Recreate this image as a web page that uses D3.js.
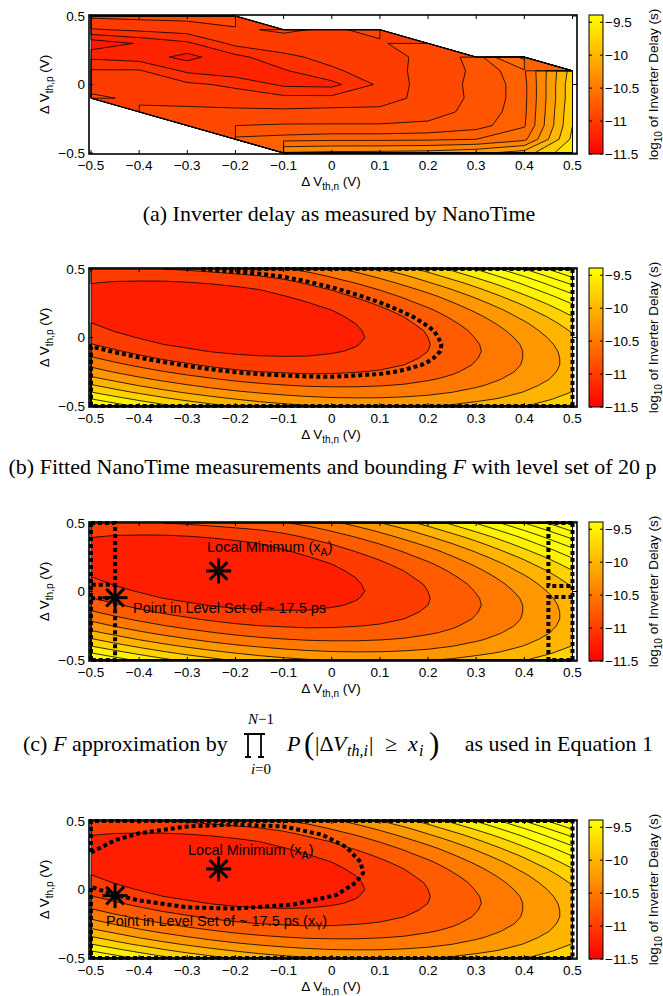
<!DOCTYPE html>
<html>
<head>
<meta charset="utf-8">
<script src="https://cdn.jsdelivr.net/npm/d3@7"></script>
<style>
body { margin: 0; background: #fff; }
svg { display: block; }
.ax text { font-family: "Liberation Sans", Arial, sans-serif; font-size: 13.5px; fill: #000; }
.cap { font-family: "Liberation Serif", "Times New Roman", serif; font-size: 22px; fill: #000; }
</style>
</head>
<body>
<svg id="fig" width="663" height="996"></svg>
<script>
// grid of the fitted surface (panels b, c, d): log10 of inverter delay
var fitX = [-0.5,-0.45,-0.4,-0.35,-0.3,-0.25,-0.2,-0.15,-0.1,-0.05,0,0.05,0.1,0.15,0.2,0.25,0.3,0.35,0.4,0.45,0.5];
var fitY = [0.5,0.45,0.4,0.35,0.3,0.25,0.2,0.15,0.1,0.05,0,-0.05,-0.1,-0.15,-0.2,-0.25,-0.3,-0.35,-0.4,-0.45,-0.5];
var fitDelay = [
[-10.76,-10.77,-10.77,-10.75,-10.72,-10.68,-10.63,-10.58,-10.52,-10.43,-10.31,-10.17,-10.01,-9.84,-9.66,-9.45,-9.24,-9.00,-8.75,-8.49,-8.21],
[-10.89,-10.91,-10.91,-10.90,-10.88,-10.84,-10.80,-10.75,-10.68,-10.59,-10.47,-10.34,-10.19,-10.03,-9.85,-9.65,-9.44,-9.22,-8.98,-8.72,-8.45],
[-10.99,-11.02,-11.03,-11.03,-11.01,-10.98,-10.94,-10.89,-10.82,-10.72,-10.61,-10.49,-10.35,-10.19,-10.02,-9.84,-9.64,-9.42,-9.19,-8.94,-8.68],
[-11.06,-11.10,-11.12,-11.13,-11.12,-11.09,-11.05,-11.00,-10.93,-10.84,-10.74,-10.62,-10.49,-10.34,-10.18,-10.00,-9.81,-9.60,-9.37,-9.13,-8.88],
[-11.09,-11.13,-11.16,-11.17,-11.17,-11.16,-11.12,-11.08,-11.01,-10.94,-10.84,-10.73,-10.61,-10.47,-10.32,-10.15,-9.96,-9.76,-9.54,-9.31,-9.07],
[-11.09,-11.14,-11.18,-11.20,-11.21,-11.20,-11.18,-11.14,-11.08,-11.01,-10.93,-10.83,-10.71,-10.58,-10.43,-10.27,-10.10,-9.90,-9.70,-9.47,-9.23],
[-11.08,-11.14,-11.18,-11.21,-11.23,-11.23,-11.21,-11.18,-11.14,-11.07,-11.00,-10.90,-10.80,-10.67,-10.54,-10.38,-10.21,-10.03,-9.83,-9.61,-9.38],
[-11.05,-11.12,-11.17,-11.21,-11.23,-11.24,-11.23,-11.21,-11.17,-11.12,-11.05,-10.96,-10.86,-10.75,-10.62,-10.47,-10.31,-10.13,-9.94,-9.74,-9.51],
[-10.99,-11.07,-11.14,-11.18,-11.21,-11.23,-11.23,-11.21,-11.18,-11.14,-11.08,-11.00,-10.91,-10.80,-10.68,-10.54,-10.39,-10.22,-10.04,-9.84,-9.63],
[-10.93,-11.01,-11.08,-11.14,-11.18,-11.20,-11.21,-11.20,-11.18,-11.14,-11.09,-11.02,-10.94,-10.84,-10.73,-10.60,-10.45,-10.29,-10.12,-9.92,-9.72],
[-10.84,-10.94,-11.01,-11.08,-11.12,-11.16,-11.17,-11.17,-11.16,-11.13,-11.09,-11.03,-10.95,-10.86,-10.75,-10.63,-10.49,-10.34,-10.18,-9.99,-9.79],
[-10.74,-10.84,-10.93,-11.00,-11.05,-11.09,-11.12,-11.13,-11.12,-11.10,-11.06,-11.01,-10.94,-10.86,-10.76,-10.65,-10.52,-10.38,-10.22,-10.04,-9.85],
[-10.61,-10.72,-10.82,-10.90,-10.96,-11.01,-11.04,-11.06,-11.06,-11.05,-11.02,-10.98,-10.92,-10.84,-10.75,-10.65,-10.53,-10.39,-10.24,-10.07,-9.89],
[-10.47,-10.59,-10.69,-10.78,-10.85,-10.91,-10.95,-10.97,-10.98,-10.98,-10.96,-10.92,-10.87,-10.80,-10.72,-10.63,-10.51,-10.39,-10.24,-10.08,-9.91],
[-10.31,-10.44,-10.55,-10.64,-10.72,-10.79,-10.84,-10.87,-10.89,-10.89,-10.88,-10.85,-10.81,-10.75,-10.68,-10.59,-10.48,-10.36,-10.23,-10.08,-9.91],
[-10.13,-10.27,-10.39,-10.49,-10.58,-10.65,-10.71,-10.75,-10.77,-10.79,-10.78,-10.76,-10.73,-10.68,-10.61,-10.53,-10.43,-10.32,-10.20,-10.05,-9.90],
[-9.94,-10.08,-10.21,-10.32,-10.41,-10.49,-10.56,-10.61,-10.64,-10.66,-10.67,-10.65,-10.63,-10.59,-10.53,-10.46,-10.37,-10.26,-10.14,-10.01,-9.86],
[-9.72,-9.87,-10.01,-10.13,-10.23,-10.32,-10.39,-10.45,-10.49,-10.52,-10.53,-10.53,-10.51,-10.48,-10.43,-10.36,-10.28,-10.19,-10.07,-9.95,-9.81],
[-9.49,-9.65,-9.79,-9.92,-10.03,-10.13,-10.21,-10.27,-10.32,-10.36,-10.38,-10.38,-10.37,-10.35,-10.31,-10.25,-10.18,-10.09,-9.99,-9.87,-9.74],
[-9.24,-9.40,-9.55,-9.69,-9.81,-9.91,-10.00,-10.08,-10.14,-10.18,-10.21,-10.22,-10.22,-10.20,-10.17,-10.12,-10.05,-9.98,-9.88,-9.77,-9.65],
[-8.97,-9.14,-9.30,-9.44,-9.57,-9.68,-9.78,-9.86,-9.93,-9.98,-10.02,-10.04,-10.04,-10.03,-10.01,-9.97,-9.91,-9.84,-9.76,-9.65,-9.54]
];

// measured grid (panel a), null = not simulated
var measX = [-0.5,-0.4,-0.3,-0.2,-0.1,0,0.1,0.2,0.3,0.4,0.5];
var measY = [0.5,0.4,0.3,0.2,0.1,0,-0.1,-0.2,-0.3,-0.4,-0.5];
var measDelay = [
[-10.88,-10.87,-10.87,-10.86,null,null,null,null,null,null,null],
[-11.01,-10.98,-10.95,-10.91,-10.89,-10.91,-10.88,null,null,null,null],
[-11.27,-11.19,-11.12,-10.97,-10.93,-10.92,-10.91,-10.85,null,null,null],
[-11.12,-11.15,-11.23,-11.13,-11.03,-10.96,-10.93,-10.88,-10.76,-10.35,null],
[-10.99,-10.99,-11.12,-11.17,-11.11,-11.02,-10.94,-10.87,-10.78,-10.62,-9.70],
[-10.92,-10.94,-10.98,-11.02,-11.12,-11.13,-10.98,-10.85,-10.78,-10.65,-9.65],
[-10.89,-10.91,-10.93,-10.95,-10.97,-10.97,-10.95,-10.86,-10.78,-10.65,-9.65],
[null,-10.89,-10.88,-10.88,-10.88,-10.87,-10.87,-10.84,-10.77,-10.64,-9.62],
[null,null,-10.82,-10.80,-10.79,-10.79,-10.79,-10.78,-10.74,-10.62,-9.60],
[null,null,null,-10.68,-10.66,-10.64,-10.64,-10.63,-10.60,-10.45,-9.55],
[null,null,null,null,-10.18,-10.15,-10.14,-10.12,-10.05,-9.90,-9.42]
];

var fitFloor = -11.25;
var fitLevels = [-11,-10.75,-10.5,-10.25,-10,-9.75,-9.5,-9.25,-9,-8.75,-8.5,-8.25];
var measFloor = -11.3;
var measLevels = [-11.2,-11.1,-11,-10.9,-10.8,-10.7,-10.6,-10.4,-10.2,-10,-9.8,-9.6];
var levelSet20ps = -10.699;

var cbTicks = [-9.5,-10,-10.5,-11,-11.5];
var xTicks = [-0.5,-0.4,-0.3,-0.2,-0.1,0,0.1,0.2,0.3,0.4,0.5];
var yTicks = [0.5,0,-0.5];

var localMin = [-0.235,0.15];
var levelPoint = [-0.45,-0.045];

// F approximation by product of tail probabilities (panel c): boundary pieces
var boundC = [
  [[-0.5,0.5],[-0.5,-0.5]],
  [[-0.5,0.5],[-0.45,0.5],[-0.45,0.05],[-0.5,0.05]],
  [[-0.5,-0.05],[-0.45,-0.05],[-0.45,-0.5],[-0.5,-0.5]],
  [[0.5,0.5],[0.5,-0.5]],
  [[0.5,0.5],[0.45,0.5],[0.45,0.04],[0.5,0.04]],
  [[0.5,-0.04],[0.45,-0.04],[0.45,-0.5],[0.5,-0.5]]
];
// level set of F (panel d): curve then domain border
var boundD = [[-0.5,0.27],[-0.45,0.36],[-0.4,0.41],[-0.3,0.46],[-0.2,0.475],[-0.1,0.46],[-0.02,0.4],[0.03,0.31],[0.06,0.2],[0.065,0.12],[0.05,0.05],[0.01,-0.04],[-0.08,-0.11],[-0.2,-0.14],[-0.3,-0.13],[-0.4,-0.08],[-0.45,-0.04],[-0.5,0.02],[-0.5,-0.5],[0.5,-0.5],[0.5,0.5],[-0.5,0.5],[-0.5,0.27]];

var svg = d3.select('#fig');
var cMin = -11.5, cMax = -9.39;
function autumn(v) {
  var t = Math.max(0, Math.min(1, (v - cMin) / (cMax - cMin)));
  return d3.rgb(255, Math.round(255 * t), 0).toString();
}
var grad = svg.append('defs').append('linearGradient').attr('id','autumn').attr('x1',0).attr('y1',1).attr('x2',0).attr('y2',0);
grad.append('stop').attr('offset','0%').attr('stop-color','#ff0000');
grad.append('stop').attr('offset','100%').attr('stop-color','#ffff00');

var X0 = 91, X1 = 572.5, FL = 89, FR = 577, PH = 139;
var tops = [15, 268, 522, 820];
var minus = function(v){ return (v < 0 ? '\u2212' : '') + Math.abs(v); };

function panel(top, grid, gx, gy, floor, levels) {
  var g = svg.append('g').attr('class','ax');
  var x = d3.scaleLinear().domain([-0.5,0.5]).range([X0,X1]);
  var y = d3.scaleLinear().domain([0.5,-0.5]).range([top+1,top+PH-1]);
  var nx = gx.length, ny = gy.length, dx = gx[1]-gx[0], dy = gy[1]-gy[0];
  var proj = d3.geoTransform({point: function(px, py) {
    var cx = Math.max(0.5, Math.min(nx-0.5, px)), cy = Math.max(0.5, Math.min(ny-0.5, py));
    this.stream.point(x(gx[0] + (cx-0.5)*dx), y(gy[0] + (cy-0.5)*dy));
  }});
  var path = d3.geoPath(proj);
  var flat = [].concat.apply([], grid);
  var bands = d3.contours().size([nx,ny]).thresholds([floor].concat(levels))(flat);
  g.selectAll('path.band').data(bands).enter().append('path').attr('class','band')
    .attr('d', path).attr('fill', function(d){ return autumn(d.value); }).attr('stroke','none');
  g.selectAll('path.iso').data(bands).enter().append('path').attr('class','iso')
    .attr('d', path).attr('fill','none').attr('stroke','#000').attr('stroke-width',0.8);
  return {g:g, x:x, y:y, path:path, flat:flat, nx:nx, ny:ny};
}

function axes(p, top) {
  var g = p.g, x = p.x, y = p.y;
  g.append('rect').attr('x',FL).attr('y',top).attr('width',FR-FL).attr('height',PH)
    .attr('fill','none').attr('stroke','#000').attr('stroke-width',1.6);
  xTicks.forEach(function(t){
    g.append('line').attr('x1',x(t)).attr('x2',x(t)).attr('y1',top+PH).attr('y2',top+PH-4).attr('stroke','#000');
    g.append('line').attr('x1',x(t)).attr('x2',x(t)).attr('y1',top).attr('y2',top+4).attr('stroke','#000');
    g.append('text').attr('x',x(t)).attr('y',top+PH+16).attr('text-anchor','middle').text(minus(t));
  });
  yTicks.forEach(function(t){
    g.append('line').attr('x1',FL).attr('x2',FL+4).attr('y1',y(t)).attr('y2',y(t)).attr('stroke','#000');
    g.append('line').attr('x1',FR).attr('x2',FR-4).attr('y1',y(t)).attr('y2',y(t)).attr('stroke','#000');
    g.append('text').attr('x',85).attr('y',y(t)).attr('dy','0.35em').attr('text-anchor','end').text(minus(t));
  });
  var xl = g.append('text').attr('x',331).attr('y',top+171).attr('text-anchor','middle');
  xl.append('tspan').text('\u0394 V');
  xl.append('tspan').attr('font-size','10px').attr('dy',4).text('th,n');
  xl.append('tspan').attr('dy',-4).text(' (V)');
  var yl = g.append('text').attr('transform','translate(49,'+(top+PH/2)+') rotate(-90)').attr('text-anchor','middle');
  yl.append('tspan').text('\u0394 V');
  yl.append('tspan').attr('font-size','10px').attr('dy',4).text('th,p');
  yl.append('tspan').attr('dy',-4).text(' (V)');
  // colorbar
  var cb = d3.scaleLinear().domain([cMin,cMax]).range([top+PH,top]);
  g.append('rect').attr('x',589).attr('y',top).attr('width',14).attr('height',PH)
    .attr('fill','url(#autumn)').attr('stroke','#000').attr('stroke-width',1);
  cbTicks.forEach(function(t){
    g.append('line').attr('x1',603).attr('x2',600).attr('y1',cb(t)).attr('y2',cb(t)).attr('stroke','#000');
    g.append('line').attr('x1',589).attr('x2',592).attr('y1',cb(t)).attr('y2',cb(t)).attr('stroke','#000');
    g.append('text').attr('x',605).attr('y',cb(t)).attr('dy','0.35em').text(minus(t));
  });
  var cl = g.append('text').attr('transform','translate(658,'+(top+PH/2)+') rotate(-90)').attr('text-anchor','middle');
  cl.append('tspan').text('log');
  cl.append('tspan').attr('font-size','10px').attr('dy',4).text('10');
  cl.append('tspan').attr('dy',-4).text(' of Inverter Delay (s)');
}

function dashed(g, d) {
  g.append('path').attr('d', d).attr('fill','none').attr('stroke','#000')
    .attr('stroke-width',4).attr('stroke-dasharray','4 3');
}
function star(g, cx, cy) {
  var r = 12.5;
  [0,45,90,135].forEach(function(a){
    var c = Math.cos(a*Math.PI/180)*r, s = Math.sin(a*Math.PI/180)*r;
    g.append('line').attr('x1',cx-c).attr('y1',cy-s).attr('x2',cx+c).attr('y2',cy+s)
      .attr('stroke','#000').attr('stroke-width',3);
  });
}
function note(g, x0, y0, main, sub, tail) {
  var t = g.append('text').attr('x',x0).attr('y',y0).style('font-size','14.5px');
  t.append('tspan').text(main);
  if (sub) {
    t.append('tspan').attr('font-size','10.5px').attr('dy',4).text(sub);
    t.append('tspan').attr('dy',-4).text(tail);
  }
}

// (a)
var pa = panel(tops[0], measDelay, measX, measY, measFloor, measLevels);
axes(pa, tops[0]);

// (b)
var pb = panel(tops[1], fitDelay, fitX, fitY, fitFloor, fitLevels);
var ls = d3.contours().size([pb.nx,pb.ny]).thresholds([levelSet20ps])(pb.flat);
dashed(pb.g, pb.path(ls[0]));
axes(pb, tops[1]);

// (c)
var pc = panel(tops[2], fitDelay, fitX, fitY, fitFloor, fitLevels);
var lineC = d3.line().x(function(d){ return pc.x(d[0]); }).y(function(d){ return pc.y(d[1]); });
boundC.forEach(function(b){ dashed(pc.g, lineC(b)); });
star(pc.g, pc.x(localMin[0]), pc.y(localMin[1]));
star(pc.g, pc.x(levelPoint[0]), pc.y(levelPoint[1]));
note(pc.g, 207, tops[2]+30, 'Local Minimum (x', 'A', ')');
note(pc.g, 133, tops[2]+91, 'Point in Level Set of ~ 17.5 ps');
axes(pc, tops[2]);

// (d)
var pd = panel(tops[3], fitDelay, fitX, fitY, fitFloor, fitLevels);
var lineD = d3.line().x(function(d){ return pd.x(d[0]); }).y(function(d){ return pd.y(d[1]); });
dashed(pd.g, lineD(boundD));
star(pd.g, pd.x(localMin[0]), pd.y(localMin[1]));
star(pd.g, pd.x(levelPoint[0]), pd.y(levelPoint[1]));
note(pd.g, 188, tops[3]+35, 'Local Minimum (x', 'A', ')');
note(pd.g, 106, tops[3]+106, 'Point in Level Set of ~ 17.5 ps (x', 'Y', ')');
axes(pd, tops[3]);

// captions
svg.append('text').attr('class','cap').attr('x',339).attr('y',221).attr('text-anchor','middle')
  .text('(a) Inverter delay as measured by NanoTime');
var capB = svg.append('text').attr('class','cap').attr('x',8.5).attr('y',474);
capB.append('tspan').text('(b) Fitted NanoTime measurements and bounding ');
capB.append('tspan').attr('font-style','italic').text('F');
capB.append('tspan').text(' with level set of 20 p');

function capPiece(x0, y0, s, opts) {
  var t = svg.append('text').attr('class','cap').attr('x',x0).attr('y',y0).text(s);
  if (opts && opts.italic) t.attr('font-style','italic');
  if (opts && opts.size) t.style('font-size', opts.size + 'px');
  if (opts && opts.anchor) t.attr('text-anchor', opts.anchor);
  return t;
}
var cy0 = 751;
var capC = svg.append('text').attr('class','cap').attr('x',23).attr('y',cy0);
capC.append('tspan').text('(c) ');
capC.append('tspan').attr('font-style','italic').text('F');
capC.append('tspan').text(' approximation by');
// product sign
svg.append('path').attr('d','M244,734 H265 M248,734 V757 M261,734 V757 M245,757 H251 M258,757 H264')
  .attr('stroke','#000').attr('stroke-width',1.8).attr('fill','none');
var up = svg.append('text').attr('class','cap').attr('x',261).attr('y',724).attr('text-anchor','middle').style('font-size','15px');
up.append('tspan').attr('font-style','italic').text('N');
up.append('tspan').text('\u22121');
var lo = svg.append('text').attr('class','cap').attr('x',261).attr('y',774).attr('text-anchor','middle').style('font-size','15px');
lo.append('tspan').attr('font-style','italic').text('i');
lo.append('tspan').text('=0');
capPiece(287, cy0, 'P', {italic:true});
capPiece(304, cy0+3, '(', {size:31});
capPiece(315, cy0, '|\u0394');
capPiece(333, cy0, 'V', {italic:true});
capPiece(347, cy0+5, 'th,i', {italic:true, size:16});
capPiece(369, cy0, '|');
capPiece(385, cy0, '\u2265');
capPiece(408, cy0, 'x', {italic:true});
capPiece(419, cy0+5, 'i', {italic:true, size:16});
capPiece(429, cy0+3, ')', {size:31});
capPiece(653, cy0, 'as used in Equation 1', {anchor:'end'});
</script>
</body>
</html>
